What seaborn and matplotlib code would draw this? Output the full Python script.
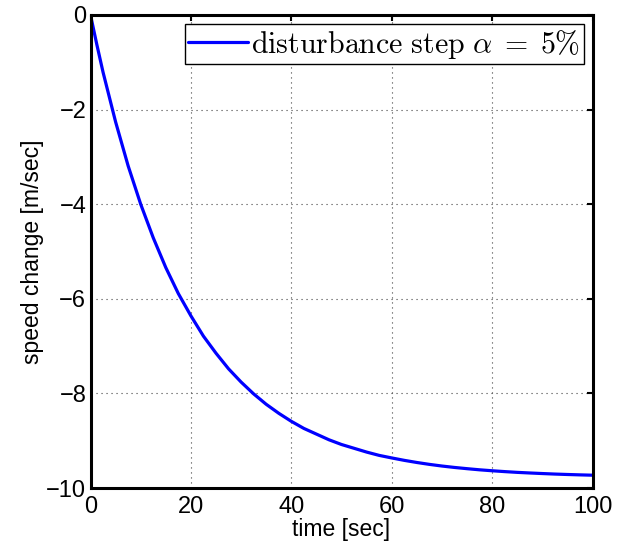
import matplotlib
matplotlib.use("Agg")
import matplotlib.pyplot as plt
import seaborn as sns
import pandas as pd

# Speed response to a 5 % disturbance step
time_s = [0, 1.25, 2.5, 5, 7.5, 10, 12.5, 15, 17.5, 20, 22.5, 25, 27.5, 30,
          32.5, 35, 37.5, 40, 42.5, 45, 47.5, 50, 52.5, 55, 57.5, 60, 62.5,
          65, 67.5, 70, 72.5, 75, 77.5, 80, 82.5, 85, 87.5, 90, 92.5, 95,
          97.5, 100]
speed_change = [0, -0.62, -1.21, -2.26, -3.19, -4.00, -4.71, -5.34, -5.89,
                -6.36, -6.79, -7.15, -7.48, -7.76, -8.01, -8.23, -8.42,
                -8.59, -8.74, -8.86, -8.98, -9.08, -9.16, -9.24, -9.31,
                -9.364, -9.415, -9.460, -9.500, -9.535, -9.565, -9.591,
                -9.615, -9.635, -9.653, -9.669, -9.682, -9.694, -9.705,
                -9.714, -9.722, -9.729]
x_ticks = [0, 20, 40, 60, 80, 100]
y_ticks = [0, -2, -4, -6, -8, -10]
series_label = r"$\mathrm{disturbance\ step}\ \alpha\;=\;5\%$"

sns.set_theme(style="white")
plt.rcParams["font.family"] = ["Liberation Sans", "DejaVu Sans"]
plt.rcParams["mathtext.fontset"] = "cm"
plt.rcParams["text.color"] = "black"
plt.rcParams["axes.labelcolor"] = "black"

df = pd.DataFrame({"time": time_s, "speed": speed_change})

fig = plt.figure(figsize=(6.25, 5.51), dpi=100)
ax = fig.add_axes([0.1448, 0.1143, 0.8032, 0.8585])

sns.lineplot(data=df, x="time", y="speed", ax=ax, color="#0000ff",
             linewidth=2.3, label=series_label)

ax.set_xlim(0, 100)
ax.set_ylim(-10, 0)
ax.set_xticks(x_ticks)
ax.set_yticks(y_ticks)
ax.set_xlabel("time [sec]", fontsize=16.5, labelpad=0, color="black")
ax.set_ylabel("speed change [m/sec]", fontsize=16.5, labelpad=2, color="black")
ax.tick_params(axis="both", which="both", direction="in", length=4,
               width=1.5, labelsize=17, top=True, right=True,
               colors="black")
ax.tick_params(axis="x", pad=6)
ax.tick_params(axis="y", pad=3)

ax.grid(True, color="#444444", linestyle=(0, (1, 3.5)), linewidth=0.8)
for sp in ax.spines.values():
    sp.set_visible(True)
    sp.set_color("black")
    sp.set_linewidth(2.2)

leg = ax.legend(loc="upper right", fontsize=21.5, frameon=True, fancybox=False,
                handlelength=2.0, handletextpad=0.1, borderpad=0.12,
                borderaxespad=0.3)
leg.get_frame().set_edgecolor("black")
leg.get_frame().set_linewidth(1.0)
leg.get_frame().set_alpha(1.0)
for txt in leg.get_texts():
    txt.set_color("black")

fig.savefig("out.png", dpi=100)
